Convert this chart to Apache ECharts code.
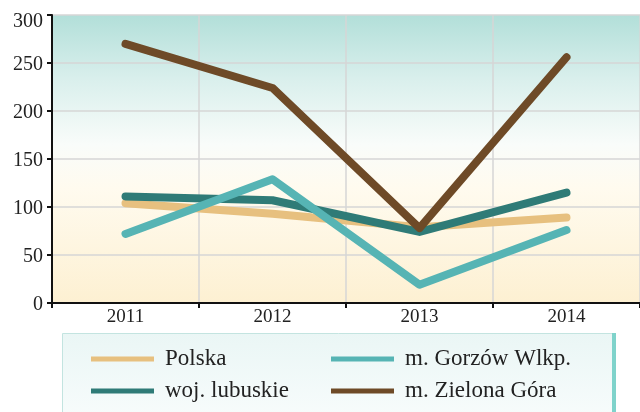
<!DOCTYPE html>
<html>
<head>
<meta charset="utf-8">
<script src="https://cdn.jsdelivr.net/npm/echarts@6/dist/echarts.min.js"></script>
<style>
html,body{margin:0;padding:0;background:#fff;}
#chart{width:640px;height:412px;}
</style>
</head>
<body>
<div id="chart"></div>
<script>
const years = ['2011', '2012', '2013', '2014'];
const polska = [104, 93, 79, 89];
const lubuskie = [111, 107, 74, 115];
const gorzow = [72, 129, 19, 76];
const zielonaGora = [270, 224, 78, 256];
const yTicks = [0, 50, 100, 150, 200, 250, 300];

const FONT = 'Liberation Serif';
const chart = echarts.init(document.getElementById('chart'), null, {renderer: 'canvas'});

function lineSeries(name, data, color) {
  return {
    name: name, type: 'line', data: data, showSymbol: false, symbol: 'none',
    lineStyle: {color: color, width: 8, cap: 'round', join: 'round'},
    itemStyle: {color: color}, animation: false
  };
}

const yMax = yTicks[yTicks.length - 1];

const option = {
  animation: false,
  backgroundColor: '#ffffff',
  textStyle: {fontFamily: FONT},
  grid: {
    left: 52, right: -6, top: 15, bottom: 109, show: true, borderWidth: 0,
    backgroundColor: new echarts.graphic.LinearGradient(0, 0, 0, 1, [
      {offset: 0, color: '#b2dfd9'},
      {offset: 0.22, color: '#d9efec'},
      {offset: 0.45, color: '#f9fcfa'},
      {offset: 0.6, color: '#fffbef'},
      {offset: 1, color: '#fdf0d2'}
    ])
  },
  xAxis: {
    type: 'category', data: years, boundaryGap: true,
    axisLine: {lineStyle: {color: '#111', width: 2}},
    axisTick: {show: true, length: 5, lineStyle: {color: '#111', width: 2}},
    axisLabel: {fontFamily: FONT, fontSize: 19, color: '#222', margin: 5},
    splitLine: {show: true, lineStyle: {color: '#d6d6d6', width: 1.5}}
  },
  yAxis: {
    type: 'value', min: yTicks[0], max: yMax, interval: 50,
    axisLine: {show: true, lineStyle: {color: '#111', width: 2}},
    axisTick: {show: true, length: 5, lineStyle: {color: '#111', width: 2}},
    axisLabel: {
      fontFamily: FONT, fontSize: 20, color: '#222', margin: 9,
      formatter: function (v) { return v === yMax ? '{t|' + v + '}' : '{n|' + v + '}'; },
      rich: {
        t: {fontFamily: FONT, fontSize: 20, color: '#222', padding: [14, 0, 0, 0]},
        n: {fontFamily: FONT, fontSize: 20, color: '#222', padding: [4, 0, 0, 0]}
      }
    },
    splitLine: {show: true, lineStyle: {color: '#d6d6d6', width: 1.5}}
  },
  legend: [
    {
      orient: 'vertical', left: 91, top: 347, padding: 0, itemWidth: 63, itemHeight: 5, itemGap: 8,
      icon: 'rect', data: ['Polska', 'woj. lubuskie'],
      textStyle: {fontFamily: FONT, fontSize: 23, color: '#222', lineHeight: 24, padding: [0, 0, 0, 6]}
    },
    {
      orient: 'vertical', left: 331, top: 347, padding: 0, itemWidth: 63, itemHeight: 5, itemGap: 8,
      icon: 'rect', data: ['m. Gorzów Wlkp.', 'm. Zielona Góra'],
      textStyle: {fontFamily: FONT, fontSize: 23, color: '#222', lineHeight: 24, padding: [0, 0, 0, 6]}
    }
  ],
  graphic: [
    {
      type: 'rect', z: -1, left: 62, top: 333,
      shape: {width: 552, height: 100},
      style: {
        fill: new echarts.graphic.LinearGradient(0, 0, 0, 1, [
          {offset: 0, color: '#eaf6f5'},
          {offset: 1, color: '#fafdfd'}
        ]),
        stroke: '#c3e4e0', lineWidth: 1
      }
    },
    {
      type: 'rect', z: 0, left: 612, top: 333,
      shape: {width: 4, height: 100},
      style: {fill: '#7fd3cb'}
    }
  ],
  series: [
    lineSeries('Polska', polska, '#e7c07f'),
    lineSeries('woj. lubuskie', lubuskie, '#2f7b77'),
    lineSeries('m. Gorzów Wlkp.', gorzow, '#56b4b4'),
    lineSeries('m. Zielona Góra', zielonaGora, '#6e4a27')
  ]
};
chart.setOption(option);
</script>
</body>
</html>
